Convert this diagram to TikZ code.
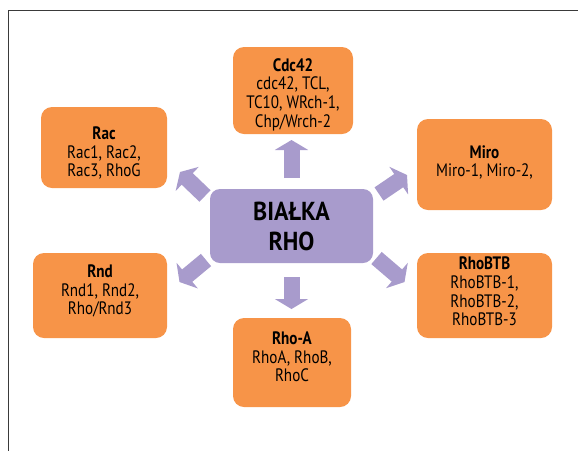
\documentclass[tikz,border=0pt]{standalone}
\usepackage{fontspec}
\setmainfont{PT Sans}[FakeStretch=0.84]
\newfontfamily\titlefont{PT Sans}[FakeStretch=0.92]
\usetikzlibrary{arrows.meta,calc}
\definecolor{orangebox}{HTML}{F79448}
\definecolor{purplebox}{HTML}{A89BCC}
\definecolor{framegray}{HTML}{3A3A3A}
\begin{document}
\begin{tikzpicture}[x=1pt,y=-1pt,
  obox/.style={rectangle, rounded corners=11pt, fill=orangebox, inner sep=0pt},
  cbox/.style={rectangle, rounded corners=10pt, fill=purplebox, inner sep=0pt, align=center, font=\titlefont\bfseries\fontsize{26}{30}\selectfont},
  otext/.style={align=center, font=\fontsize{18}{18.6}\selectfont, inner sep=0pt},
  barrow/.style={draw=purplebox, line width=16pt, -{Triangle[width=33pt,length=10pt]}}]
\useasboundingbox (0,0) rectangle (578,451);
% frame
\coordinate (ftl) at (8.5,10.5);
\coordinate (ftr) at (578,10.5);
\coordinate (fbl) at (8.5,451);
\draw[framegray, line width=1.2pt] (ftr) -- (ftl) -- (fbl);
% center
\node[cbox, minimum width=163pt, minimum height=74pt] (rho) at (291.5,226) {BIAŁKA\\RHO};
% boxes
\node[obox, minimum width=120pt, minimum height=87pt] (cdc) at (293,90.5) {};
\node[otext] (cdcT) at (293,94.5) {\textbf{Cdc42}\\cdc42, TCL,\\TC10, WRch-1,\\Chp/Wrch-2};
\node[obox, minimum width=126pt, minimum height=81pt] (rac) at (104,147.5) {};
\node[otext] (racT) at (104,153) {\textbf{Rac}\\Rac1, Rac2,\\Rac3, RhoG};
\node[obox, minimum width=134pt, minimum height=85pt] (rnd) at (100,295.5) {};
\node[otext] (rndT) at (100,291) {\textbf{Rnd}\\Rnd1, Rnd2,\\Rho/Rnd3};
\node[obox, minimum width=135pt, minimum height=91pt] (miro) at (484.5,164.5) {};
\node[otext] (miroT) at (484.5,162.5) {\textbf{Miro}\\Miro-1, Miro-2,};
\node[obox, minimum width=135pt, minimum height=85pt] (btb) at (484.5,295.5) {};
\node[otext] (btbT) at (484.5,291.5) {\textbf{RhoBTB}\\RhoBTB-1,\\RhoBTB-2,\\RhoBTB-3};
\node[obox, minimum width=118pt, minimum height=89pt] (rhoa) at (292,362.5) {};
\node[otext] (rhoaT) at (292,357) {\textbf{Rho-A}\\RhoA, RhoB,\\RhoC};
% arrows
\coordinate (aUs) at (291.5,178); \coordinate (aUe) at (291.5,140);
\coordinate (aDs) at (291.5,277); \coordinate (aDe) at (291.5,309);
\coordinate (aRacS) at (205,196); \coordinate (aRacE) at (180,172);
\coordinate (aMiroS) at (379,194); \coordinate (aMiroE) at (407,175);
\coordinate (aBtbS) at (376.5,258); \coordinate (aBtbE) at (404.5,282);
\coordinate (aRndS) at (206,260); \coordinate (aRndE) at (179.5,282);
\draw[barrow] (aUs) -- (aUe);
\draw[barrow] (aDs) -- (aDe);
\draw[barrow] (aRacS) -- (aRacE);
\draw[barrow] (aMiroS) -- (aMiroE);
\draw[barrow] (aBtbS) -- (aBtbE);
\draw[barrow] (aRndS) -- (aRndE);
\end{tikzpicture}
\end{document}
